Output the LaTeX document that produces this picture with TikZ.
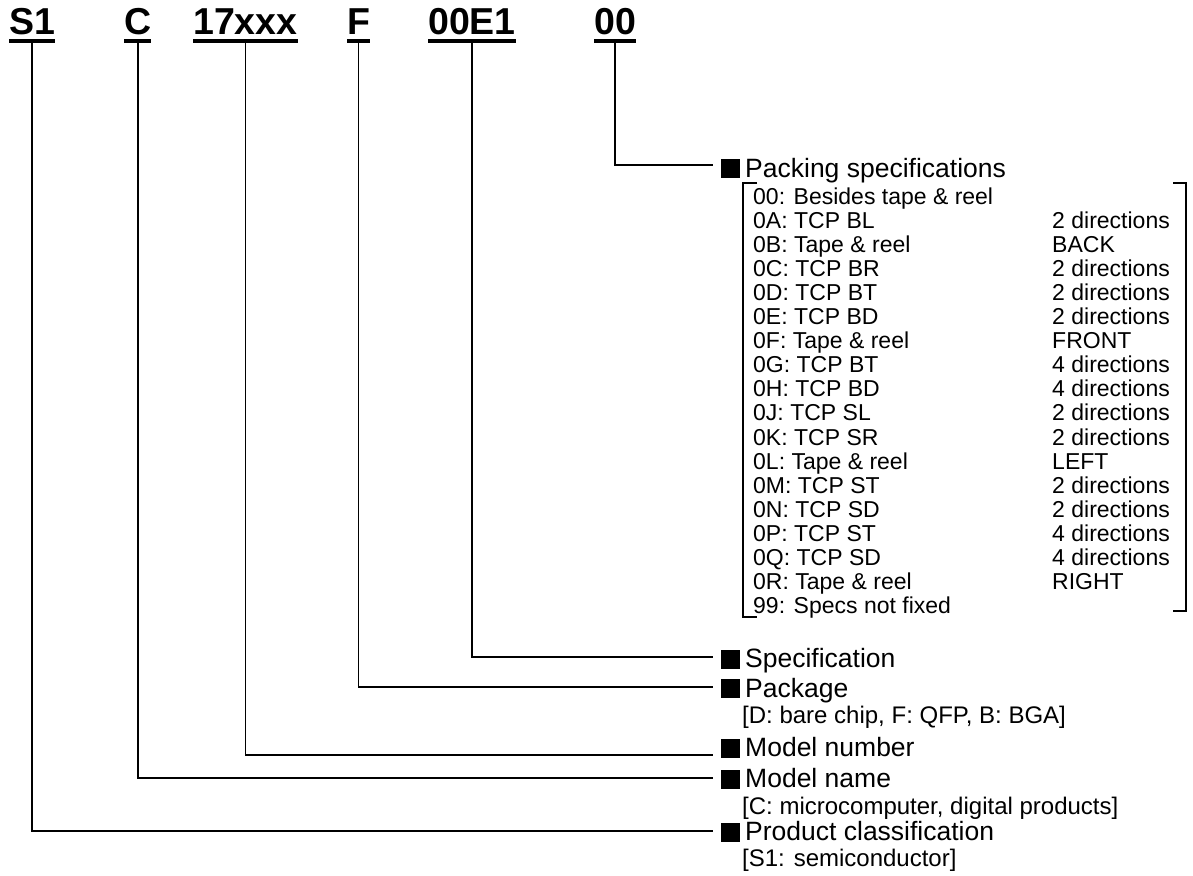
\documentclass[tikz,border=0pt]{standalone}
\usepackage{fontspec}
\setmainfont{Liberation Sans}
\usetikzlibrary{calc}
\tikzset{
 code/.style={font=\fontsize{37.5}{40}\selectfont\bfseries, inner sep=0pt, anchor=base west},
 head/.style={font=\fontsize{26.5}{28}\selectfont, inner sep=0pt, anchor=base west},
 entry/.style={font=\fontsize{23}{24}\selectfont, inner sep=0pt, anchor=base west},
 sublbl/.style={font=\fontsize{24}{26}\selectfont, inner sep=0pt, anchor=base west},
 sq/.style={fill=black, draw=none, minimum size=19pt, inner sep=0pt},
 conn/.style={line width=1.6pt},
 ul/.style={line width=3.2pt},
 brk/.style={line width=1.6pt}
}
\begin{document}
\begin{tikzpicture}[x=1pt,y=-1pt]
\useasboundingbox (0,0) rectangle (1193,875);
% codes
\node[code] (s1) at (9,35) {S1};
\node[code] (c) at (124,35) {C};
\node[code] (num) at (193,35) {17xxx};
\node[code] (f) at (347,35) {F};
\node[code] (spec) at (428,35) {00E1};
\node[code] (pack) at (594,35) {00};
\foreach \n in {s1,c,num,f,spec,pack}{
  \draw[ul] ($(\n.base west)+(0,6)$) -- ($(\n.base east)+(0,6)$);
}
% squares
\node[sq] (sqPack) at (730.5,168.5) {};
\node[sq] (sqSpec) at (730.5,659) {};
\node[sq] (sqPkg) at (730.5,688.5) {};
\node[sq] (sqNum) at (730.5,748) {};
\node[sq] (sqName) at (730.5,779) {};
\node[sq] (sqProd) at (730.5,832) {};
% headings
\node[head] (hPack) at (745,177) {Packing specifications};
\node[head] (hSpec) at (745,667.5) {Specification};
\node[head] (hPkg) at (745,697) {Package};
\node[sublbl] (sPkg) at (742,723.5) {[D: bare chip, F: QFP, B: BGA]};
\node[head] (hNum) at (745,756.5) {Model number};
\node[head] (hName) at (745,787.5) {Model name};
\node[sublbl] (sName) at (742,814.5) {[C: microcomputer, digital products]};
\node[head] (hProd) at (745,840.5) {Product classification};
\node[sublbl] (sProd) at (742,866.5) {[S1: semiconductor]};
% connectors
\draw[conn] ($(pack.base)+(0,7.5)$) |- ($(sqPack.west)+(-8,-3.5)$);
\draw[conn] ($(spec.base)+(0,7.5)$) |- ($(sqSpec.west)+(-8,-2)$);
\draw[conn] ($(f.base)+(0,7.5)$) |- ($(sqPkg.west)+(-8,-1.5)$);
\draw[conn] ($(num.base)+(0,7.5)$) |- ($(sqNum.west)+(-8,7)$);
\draw[conn] ($(c.base)+(0,7.5)$) |- ($(sqName.west)+(-8,-1)$);
\draw[conn] ($(s1.base)+(0,7.5)$) |- ($(sqProd.west)+(-8,-1)$);
% entries
\foreach \a [count=\i from 0] in {
 {00: Besides tape \& reel},{0A: TCP BL},{0B: Tape \& reel},{0C: TCP BR},
 {0D: TCP BT},{0E: TCP BD},{0F: Tape \& reel},{0G: TCP BT},{0H: TCP BD},
 {0J: TCP SL},{0K: TCP SR},{0L: Tape \& reel},{0M: TCP ST},{0N: TCP SD},
 {0P: TCP ST},{0Q: TCP SD},{0R: Tape \& reel},{99: Specs not fixed}}{
  \node[entry] (e\i) at (753,{204.5+24.05*\i}) {\a};
}
\foreach \b [count=\i from 1] in {
 {2 directions},{BACK},{2 directions},{2 directions},{2 directions},{FRONT},
 {4 directions},{4 directions},{2 directions},{2 directions},{LEFT},
 {2 directions},{2 directions},{4 directions},{4 directions},{RIGHT}}{
  \node[entry] (r\i) at (1052,{204.5+24.05*\i}) {\b};
}
% brackets
\draw[brk] (757,183) -- (743,183) -- (743,617) -- (757,617);
\draw[brk] (1173,183) -- (1186,183) -- (1186,611) -- (1173,611);
\end{tikzpicture}
\end{document}
